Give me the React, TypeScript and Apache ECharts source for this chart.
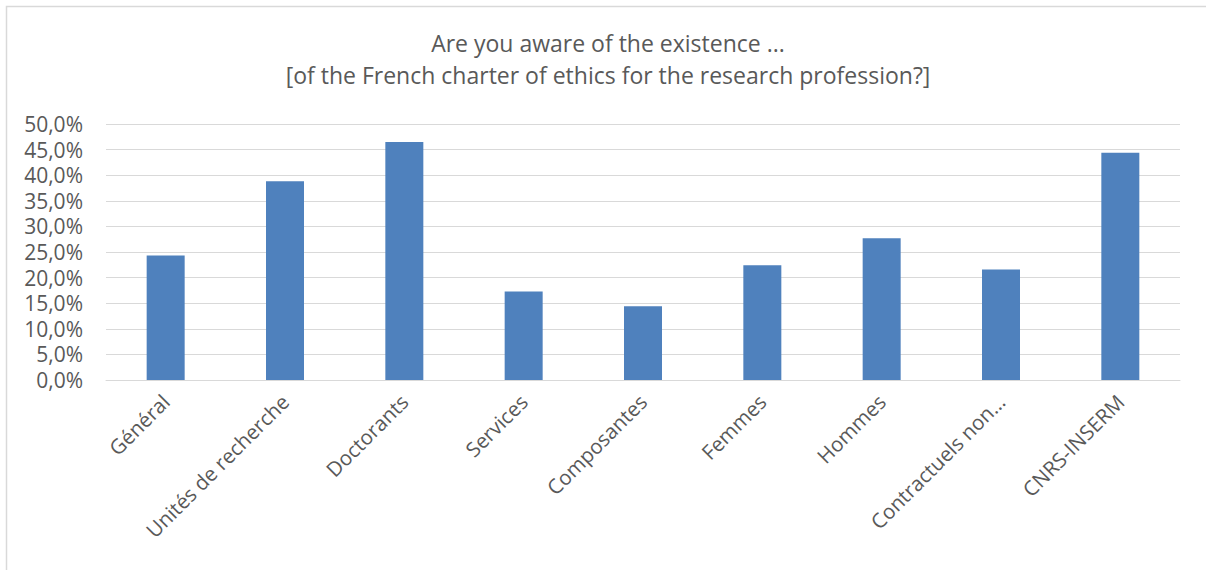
import React, { useEffect, useRef } from "react";
import * as echarts from "echarts";

const categories = [
  "Général",
  "Unités de recherche",
  "Doctorants",
  "Services",
  "Composantes",
  "Femmes",
  "Hommes",
  "Contractuels non…",
  "CNRS-INSERM",
];
const values = [24.3, 38.8, 46.5, 17.3, 14.4, 22.4, 27.7, 21.6, 44.4];
const titleLines = [
  "Are you aware of the existence ...",
  "[of the French charter of ethics for the research profession?]",
];

export default function App() {
  const ref = useRef<HTMLDivElement>(null);
  useEffect(() => {
    if (!ref.current) return;
    const chart = echarts.init(ref.current, undefined, { renderer: "svg" });
    const font = "'Open Sans', 'Liberation Sans', sans-serif";
    chart.setOption({
      animation: false,
      backgroundColor: "#ffffff",
      title: {
        text: titleLines.join("\n"),
        left: 608,
        textAlign: "center",
        top: 27,
        padding: 0,
        textStyle: {
          fontFamily: font,
          fontSize: 23,
          fontWeight: "normal",
          color: "#595959",
          lineHeight: 32,
        },
      },
      graphic: [
        {
          type: "rect",
          shape: { x: 6.5, y: 6.5, width: 1220, height: 600 },
          style: { fill: "none", stroke: "#d9d9d9", lineWidth: 1.5 },
          silent: true,
        },
      ],
      grid: { left: 106, right: 26, top: 124, bottom: 190, containLabel: false },
      xAxis: {
        type: "category",
        data: categories,
        axisTick: { show: false },
        axisLine: { show: true, lineStyle: { color: "#d9d9d9", width: 1 } },
        axisLabel: {
          interval: 0,
          rotate: 45,
          margin: 18,
          fontFamily: font,
          fontSize: 20.5,
          color: "#595959",
        },
      },
      yAxis: {
        type: "value",
        min: 0,
        max: 50,
        interval: 5,
        axisLine: { show: false },
        axisTick: { show: false },
        splitLine: { lineStyle: { color: "#d9d9d9", width: 1 } },
        axisLabel: {
          margin: 23,
          fontFamily: font,
          fontSize: 21,
          color: "#595959",
          formatter: (v: number) => v.toFixed(1).replace(".", ",") + "%",
        },
      },
      series: [
        {
          type: "bar",
          data: values,
          barWidth: 38,
          itemStyle: { color: "#4f81bd" },
        },
      ],
    });
    return () => chart.dispose();
  }, []);
  return (
    <div
      ref={ref}
      style={{ position: "absolute", left: 0, top: 0, width: 1206, height: 570 }}
    />
  );
}
